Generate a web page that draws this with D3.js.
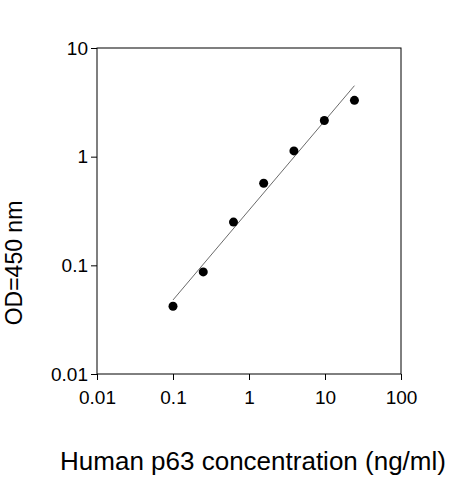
<!DOCTYPE html>
<html>
<head>
<meta charset="UTF-8">
<script src="https://d3js.org/d3.v7.min.js"></script>
<style>
  body { margin: 0; background: #fff; }
  text { font-family: Arial, "Liberation Sans", sans-serif; }
</style>
</head>
<body>
<svg id="chart" width="463" height="480"></svg>
<script>
var concentration = [0.1, 0.25, 0.625, 1.56, 3.9, 9.8, 24.4];
var od = [0.042, 0.087, 0.25, 0.57, 1.13, 2.15, 3.3];
var fitLine = [[0.1, 0.048], [24.4, 4.5]];
var xTicks = [0.01, 0.1, 1, 10, 100];
var yTicks = [0.01, 0.1, 1, 10];

var margin = {top: 48, left: 97, right: 62, bottom: 106},
    width = 463 - margin.left - margin.right,
    height = 480 - margin.top - margin.bottom;

var svg = d3.select("#chart").append("g")
    .attr("transform", "translate(" + margin.left + "," + margin.top + ")");

var x = d3.scaleLog().domain([0.01, 100]).range([0, width]);
var y = d3.scaleLog().domain([0.01, 10]).range([height, 0]);

svg.append("rect")
    .attr("width", width).attr("height", height)
    .attr("fill", "none").attr("stroke", "#000");

var xAxis = svg.append("g")
    .attr("transform", "translate(0," + height + ")")
    .call(d3.axisBottom(x).tickValues(xTicks).tickFormat(d => String(d)).tickSizeOuter(0).tickSize(6));
var yAxis = svg.append("g")
    .call(d3.axisLeft(y).tickValues(yTicks).tickFormat(d => String(d)).tickSizeOuter(0).tickSize(6));
[xAxis, yAxis].forEach(a => {
    a.select(".domain").remove();
    a.selectAll("text").style("font-size", "19px").attr("fill", "#000");
});
xAxis.selectAll("text").attr("dy", "1.1em");

svg.append("path")
    .datum(fitLine)
    .attr("fill", "none").attr("stroke", "#444").attr("stroke-width", 0.8)
    .attr("d", d3.line().x(d => x(d[0])).y(d => y(d[1])));

svg.selectAll("circle").data(concentration).join("circle")
    .attr("cx", d => x(d))
    .attr("cy", (d, i) => y(od[i]))
    .attr("r", 4.5).attr("fill", "#000");

svg.append("text")
    .attr("x", width / 2 + 4).attr("y", height + 96)
    .attr("text-anchor", "middle").style("font-size", "26px")
    .text("Human p63 concentration (ng/ml)");

svg.append("text")
    .attr("transform", "translate(-75," + (height / 2 + 52) + ") rotate(-90)")
    .attr("text-anchor", "middle").style("font-size", "23px")
    .text("OD=450 nm");
</script>
</body>
</html>
